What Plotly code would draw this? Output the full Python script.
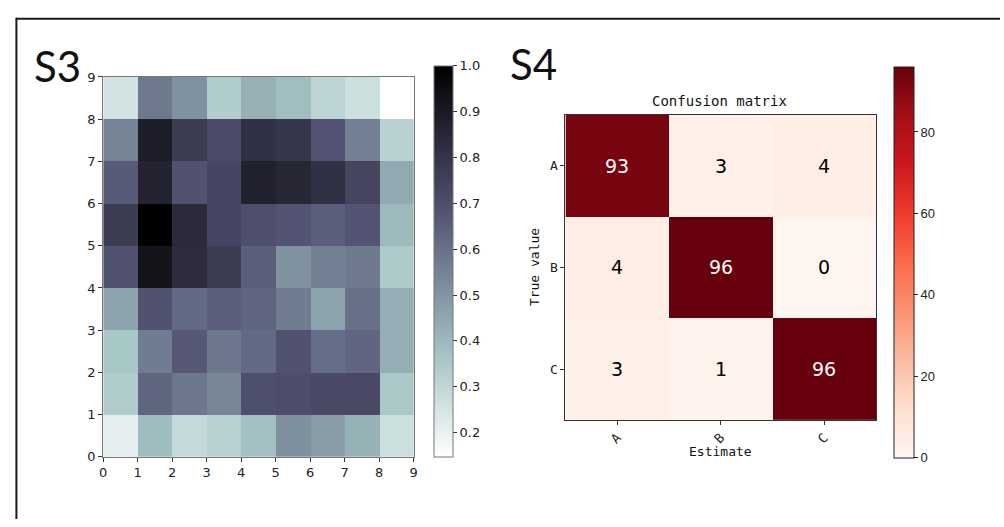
import plotly.graph_objects as go

W, H = 1004, 527

# ---- S3: 9x9 grid of normalised activations (row 0 = bottom) ----
grid_rows = [
    [0.21, 0.39, 0.29, 0.32, 0.38, 0.515, 0.48, 0.42, 0.27],   # y 0-1
    [0.34, 0.63, 0.585, 0.54, 0.70, 0.705, 0.72, 0.72, 0.355], # y 1-2
    [0.36, 0.57, 0.67, 0.58, 0.62, 0.69, 0.61, 0.63, 0.43],    # y 2-3
    [0.46, 0.69, 0.62, 0.65, 0.63, 0.57, 0.46, 0.60, 0.43],    # y 3-4
    [0.69, 0.925, 0.83, 0.77, 0.65, 0.51, 0.56, 0.575, 0.35],  # y 4-5
    [0.77, 1.00, 0.84, 0.73, 0.70, 0.68, 0.65, 0.68, 0.40],    # y 5-6
    [0.66, 0.865, 0.69, 0.73, 0.87, 0.855, 0.81, 0.735, 0.445],# y 6-7
    [0.55, 0.885, 0.77, 0.71, 0.81, 0.79, 0.68, 0.56, 0.32],   # y 7-8
    [0.256, 0.578, 0.509, 0.34, 0.425, 0.386, 0.31, 0.27, 0.147], # y 8-9
]
grid_centres = [i + 0.5 for i in range(9)]
grid_ticks = list(range(10))
s3_cbar_ticks = [0.2, 0.3, 0.4, 0.5, 0.6, 0.7, 0.8, 0.9, 1.0]

# ---- S4: confusion matrix ----
classes = ["A", "B", "C"]
confusion = [
    [93, 3, 4],
    [4, 96, 0],
    [3, 1, 96],
]
s4_cbar_ticks = [0, 20, 40, 60, 80]

# matplotlib "bone_r" and "Reds" colormaps
bone_r = [
    [0.0, "rgb(255,255,255)"],
    [0.253968, "rgb(166,198,198)"],
    [0.634921, "rgb(81,81,113)"],
    [1.0, "rgb(0,0,0)"],
]
reds_hex = ["#fff5f0", "#fee0d2", "#fcbba1", "#fc9272", "#fb6a4a",
            "#ef3b2c", "#cb181d", "#a50f15", "#67000d"]
reds = [[i / (len(reds_hex) - 1), c] for i, c in enumerate(reds_hex)]


def px_x(p):
    return p / W


def px_y(p):
    return 1 - p / H


fig = go.Figure()

# left heatmap
L0, L1, T0, B0 = 100, 413, 72, 463
fig.add_trace(go.Heatmap(
    z=grid_rows, x=grid_centres, y=grid_centres,
    colorscale=bone_r, zmin=0.147, zmax=1.0,
    xaxis="x", yaxis="y",
    colorbar=dict(
        x=px_x(433), xanchor="left", xpad=0,
        y=px_y(B0), yanchor="bottom", ypad=0,
        len=B0 - T0, lenmode="pixels", thickness=19,
        outlinewidth=1, outlinecolor="#777",
        tickvals=s3_cbar_ticks, ticktext=[f"{t:.1f}" for t in s3_cbar_ticks],
        ticks="outside", ticklen=4, tickcolor="#333",
        tickfont=dict(family="DejaVu Sans", size=13, color="#222"),
    ),
))

# right heatmap
R0, R1, T1, B1 = 566, 879, 111, 425
thresh = max(max(r) for r in confusion) / 2
fig.add_trace(go.Heatmap(
    z=confusion, x=[0, 1, 2], y=[0, 1, 2],
    colorscale=reds, zmin=0, zmax=96,
    xaxis="x2", yaxis="y2",
    colorbar=dict(
        x=px_x(897), xanchor="left", xpad=0,
        y=px_y(464), yanchor="bottom", ypad=0,
        len=464 - 73, lenmode="pixels", thickness=20,
        outlinewidth=1, outlinecolor="#222",
        tickvals=s4_cbar_ticks,
        ticks="outside", ticklen=4, tickcolor="#222",
        tickfont=dict(family="Liberation Sans Narrow, Liberation Sans", size=13, color="#222"),
    ),
))

annotations = []
for i, row in enumerate(confusion):
    for j, v in enumerate(row):
        annotations.append(dict(
            x=j, y=i, xref="x2", yref="y2", text=str(v), showarrow=False,
            font=dict(family="DejaVu Sans", size=19,
                      color="white" if v > thresh else "black"),
        ))


def label(text, x, y, size, family, angle=0, xanchor="center"):
    return dict(x=px_x(x), y=px_y(y), xref="paper", yref="paper", text=text,
                showarrow=False, xanchor=xanchor, yanchor="middle", textangle=angle,
                font=dict(family=family, size=size, color="#111"))


mono = "DejaVu Sans Mono"
annotations += [
    label("S3", 54, 61, 42, "Lato"),
    label("S4", 534, 59, 42, "Lato"),
    label("Confusion matrix", 721, 97, 14, mono),
    label("Estimate", 722, 458, 13, mono),
    label("True value", 535, 268, 13, mono, angle=-90),
]

axis_common = dict(showgrid=False, zeroline=False, ticks="outside", ticklen=4,
                   mirror=True, showline=True)

fig.update_layout(
    width=W, height=H,
    margin=dict(l=0, r=0, t=0, b=0),
    paper_bgcolor="white", plot_bgcolor="white",
    showlegend=False,
    annotations=annotations,
    xaxis=dict(domain=[px_x(L0), px_x(L1)], range=[0, 9], tickvals=grid_ticks,
               linecolor="#777", tickcolor="#333",
               tickfont=dict(family="DejaVu Sans", size=13, color="#222"),
               anchor="y", **axis_common),
    yaxis=dict(domain=[px_y(B0), px_y(T0)], range=[0, 9], tickvals=grid_ticks,
               linecolor="#777", tickcolor="#333",
               tickfont=dict(family="DejaVu Sans", size=13, color="#222"),
               anchor="x", **axis_common),
    xaxis2=dict(domain=[px_x(R0), px_x(R1)], range=[-0.5, 2.5],
                tickvals=[0, 1, 2], ticktext=classes, tickangle=-45,
                linecolor="#333", tickcolor="#333",
                tickfont=dict(family=mono, size=13, color="#222"),
                anchor="y2", **axis_common),
    yaxis2=dict(domain=[px_y(B1), px_y(T1)], range=[2.5, -0.5],
                tickvals=[0, 1, 2], ticktext=classes,
                linecolor="#333", tickcolor="#333",
                tickfont=dict(family=mono, size=13, color="#222"),
                anchor="x2", **axis_common),
    shapes=[
        # outer frame (top and left edges)
        dict(type="line", xref="paper", yref="paper",
             x0=px_x(12), x1=1.0, y0=px_y(12), y1=px_y(12),
             line=dict(color="#1a1a1a", width=2)),
        dict(type="line", xref="paper", yref="paper",
             x0=px_x(12.5), x1=px_x(12.5), y0=px_y(11), y1=0.0,
             line=dict(color="#1a1a1a", width=2)),
    ],
)

fig.write_html("out.html")
